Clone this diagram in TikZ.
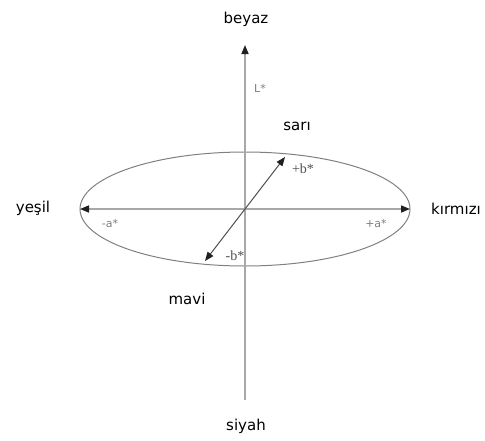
\documentclass[tikz,border=0pt]{standalone}
\usepackage{fontspec}
\setmainfont{DejaVu Sans}
\newfontfamily\bstarfont{Liberation Serif}
\usetikzlibrary{arrows.meta}
\definecolor{axisgray}{HTML}{A8A8A8}
\definecolor{ellgray}{HTML}{808080}
\definecolor{diaggray}{HTML}{505050}
\definecolor{lblgray}{HTML}{808080}
\definecolor{tipcol}{HTML}{202020}
\tikzset{
  bigtxt/.style={font=\fontsize{15}{18}\selectfont, text=black, inner sep=0pt},
  smalltxt/.style={font=\fontsize{11}{13}\selectfont, text=lblgray, inner sep=0pt},
  serifsmall/.style={font=\bstarfont\fontsize{14}{16}\selectfont, text=diaggray, inner sep=0pt},
  axisline/.style={draw=axisgray, line width=1.6pt},
  tip/.style={-{Triangle[length=9pt,width=7pt,color=tipcol]}},
  tips/.style={{Triangle[length=9pt,width=7pt,color=tipcol]}-{Triangle[length=9pt,width=7pt,color=tipcol]}},
  diagline/.style={draw=diaggray, line width=1pt},
  ell/.style={draw=ellgray, line width=1pt}
}
\begin{document}
\begin{tikzpicture}[x=1pt,y=-1pt]
\useasboundingbox (0,0) rectangle (485,440);
% coordinates
\coordinate (Ltop) at (245,45);
\coordinate (Lbot) at (245,400);
\coordinate (aleft) at (80,209);
\coordinate (aright) at (410,209);
\coordinate (bup) at (285,157);
\coordinate (bdown) at (205,261);
\coordinate (ctr) at (245,209);
% ellipse
\draw[ell] (ctr) ellipse [x radius=165pt, y radius=57pt];
% axes
\draw[axisline, tip] (Lbot) -- (Ltop);
\draw[axisline, tips] (aleft) -- (aright);
\draw[diagline, tips] (bdown) -- (bup);
% labels
\node[bigtxt] (beyaz) at (246,19) {beyaz};
\node[bigtxt] (siyah) at (246,426) {siyah};
\node[bigtxt] (yesil) at (33,208) {yeşil};
\node[bigtxt] (kirmizi) at (456,209) {kırmızı};
\node[bigtxt] (sari) at (297,126) {sarı};
\node[bigtxt] (mavi) at (187,299) {mavi};
\node[smalltxt] (Lstar) at (260,88) {L*};
\node[smalltxt] (aminus) at (110,223) {-a*};
\node[smalltxt] (aplus) at (376,223) {+a*};
\node[serifsmall] (bplus) at (303,169) {+b*};
\node[serifsmall] (bminus) at (235,256) {-b*};
\end{tikzpicture}
\end{document}
